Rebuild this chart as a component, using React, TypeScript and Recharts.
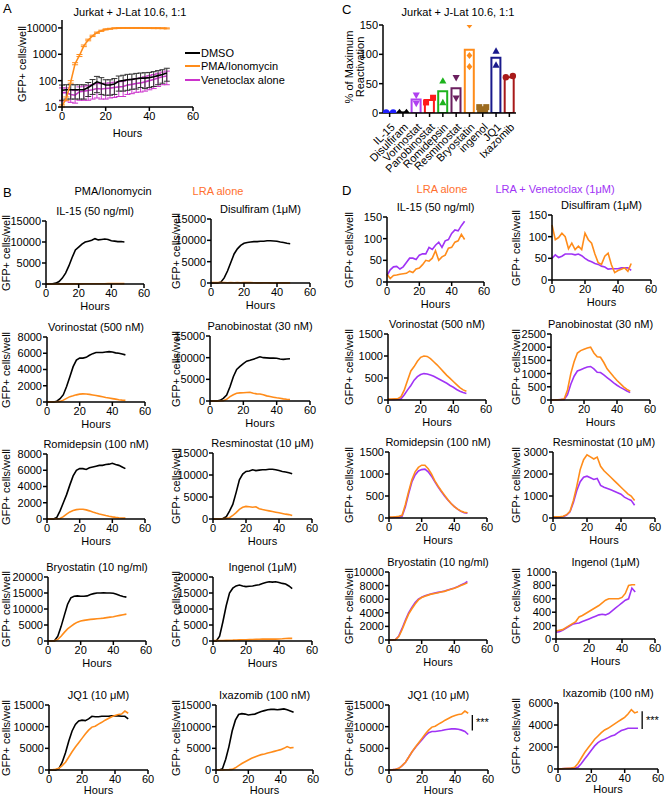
import React from 'react';
import {
  LineChart, Line, XAxis, YAxis, ErrorBar, ComposedChart, Bar, Cell, Scatter, ReferenceLine,
} from 'recharts';

const FONT = '"Liberation Sans", Arial, Helvetica, sans-serif';

// ---------------- DATA ----------------
const HOURS = [0, 2, 4, 6, 8, 10, 12, 14, 16, 18, 20, 22, 24, 26, 28, 30, 32, 34, 36, 38, 40, 42, 44, 46, 48];

// Panel A (log scale)
const A_DMSO = [43, 45, 45, 45, 45, 45, 55, 70, 90, 80, 68, 68, 75, 95, 100, 108, 112, 118, 125, 125, 130, 140, 155, 170, 195];
const A_DMSO_ERR = [25, 25, 25, 25, 25, 25, 30, 40, 55, 50, 40, 40, 45, 55, 60, 65, 65, 70, 70, 75, 75, 80, 85, 90, 100];
const A_PMA = [11, 21, 90, 440, 900, 2100, 3500, 5000, 6600, 7800, 8800, 9300, 9700, 9900, 10000, 10000, 10000, 10000, 10000, 9900, 9900, 9800, 9800, 9700, 9600];
const A_PMA_ERR = [1, 3, 10, 40, 80, 150, 250, 300, 350, 400, 400, 400, 400, 400, 400, 400, 400, 400, 400, 400, 400, 400, 400, 400, 400];
const A_VEN = [35, 35, 30, 28, 38, 40, 42, 45, 50, 48, 50, 52, 55, 58, 60, 68, 72, 78, 82, 90, 100, 110, 125, 140, 150];
const A_VEN_ERR = [18, 18, 15, 14, 20, 22, 24, 25, 28, 28, 30, 30, 32, 33, 35, 38, 40, 42, 45, 50, 55, 60, 65, 70, 80];
const A_LEGEND = ['DMSO', 'PMA/Ionomycin', 'Venetoclax alone'];

// Panel C
const C_CATS = ['IL-15', 'Disulfiram', 'Vorinostat', 'Panobinostat', 'Romidepsin', 'Resminostat', 'Bryostatin', 'ingenol', 'JQ1', 'Ixazomib'];
const C_MEAN = [1, 1, 23, 22, 37, 42, 108, 10, 94, 61];
const C_REP1 = [1, 1, 30, 18, 55, 60, 150, 10, 106, 61];
const C_REP2 = [1, 1, 16, 26, 18, 25, 98, 10, 82, 63];
const C_REP3: (number | null)[] = [null, null, null, null, null, null, 79, null, null, null];
const C_TICKS = [0, 50, 100, 150];

// Panels B / D (GFP+ cells/well over time)
const DRUGS = ['IL-15 (50 ng/ml)', 'Disulfiram (1\u03bcM)', 'Vorinostat (500 nM)', 'Panobinostat (30 nM)', 'Romidepsin (100 nM)', 'Resminostat (10 \u03bcM)', 'Bryostatin (10 ng/ml)', 'Ingenol (1\u03bcM)', 'JQ1 (10 \u03bcM)', 'Ixazomib (100 nM)'];

const PMA_IL15 = [0, 0, 50, 200, 600, 1400, 2600, 4300, 6300, 8100, 8800, 9500, 10000, 10200, 10400, 10800, 10500, 10600, 10700, 10600, 10300, 10200, 10100, 10100, 10000];
const PMA_DIS = [0, 0, 0, 200, 1200, 2800, 4800, 6800, 8000, 8800, 9300, 9500, 9600, 9700, 9700, 9800, 9800, 9900, 9900, 9850, 9800, 9600, 9500, 9300, 9200];
const PMA_VOR = [0, 0, 0, 100, 400, 900, 1900, 3100, 4350, 5150, 5400, 5400, 5500, 5750, 5950, 6100, 6100, 6100, 6150, 6200, 6150, 6050, 6000, 5900, 5800];
const PMA_PANO = [0, 0, 0, 150, 600, 1400, 3300, 5600, 7300, 8000, 8650, 9200, 9400, 9650, 9900, 10200, 10000, 9950, 9900, 9900, 9850, 9700, 9600, 9700, 9750];
const PMA_ROMI = [0, 0, 0, 200, 1000, 2000, 3000, 4200, 5300, 6000, 6200, 6200, 6100, 6300, 6400, 6500, 6600, 6600, 6700, 6750, 6850, 6700, 6600, 6400, 6200];
const PMA_RESMI = [0, 0, 0, 100, 500, 1800, 3300, 6000, 8900, 10200, 10800, 10900, 11200, 11000, 11100, 11200, 11200, 11300, 11300, 11200, 11000, 10800, 10700, 10500, 10300];
const PMA_BRYO = [0, 0, 100, 1500, 4500, 8000, 11500, 13500, 14000, 14100, 14000, 14000, 14100, 14500, 14800, 15000, 15000, 15100, 15000, 15000, 14900, 14600, 14200, 13900, 13700];
const PMA_ING = [0, 0, 1500, 6000, 11000, 15000, 16500, 17200, 17500, 17200, 17000, 17100, 17200, 17400, 17600, 18000, 18300, 18500, 18400, 18500, 18300, 18000, 17800, 17200, 16400];
const PMA_JQ1 = [0, 0, 0, 300, 1800, 4000, 6700, 9000, 10500, 11300, 11500, 11400, 11800, 12400, 12300, 12300, 12400, 12400, 12400, 12500, 12500, 12500, 12400, 12400, 11800];
const PMA_IXA = [0, 0, 300, 2500, 5400, 9000, 11500, 12800, 13000, 12900, 12700, 12800, 12900, 13200, 13500, 13700, 13900, 14000, 14000, 13900, 14000, 14100, 13900, 13600, 13300];

const LRA_IL15 = [18, 8, 15, 16, 18, 19, 20, 25, 22, 30, 32, 40, 50, 48, 55, 72, 50, 58, 62, 78, 80, 92, 95, 110, 98];
const LRA_DIS = [127, 93, 98, 108, 100, 72, 85, 70, 78, 70, 108, 93, 85, 60, 40, 36, 55, 62, 35, 17, 22, 25, 28, 20, 38];
const LRA_VOR = [20, 20, 25, 30, 75, 230, 450, 660, 760, 880, 970, 1000, 990, 940, 870, 800, 720, 640, 560, 490, 420, 350, 280, 230, 200];
const LRA_PANO = [0, 0, 10, 20, 40, 380, 1000, 1450, 1780, 1870, 1920, 1970, 2000, 1780, 1640, 1620, 1420, 1180, 1030, 880, 740, 620, 500, 400, 330];
const LRA_ROMI = [20, 20, 30, 40, 60, 300, 600, 870, 1050, 1150, 1200, 1200, 1120, 1000, 850, 730, 620, 520, 420, 330, 260, 200, 160, 130, 120];
const LRA_RESMI = [50, 50, 60, 80, 150, 300, 800, 1450, 2200, 2650, 2870, 2780, 2680, 2770, 2350, 2150, 2000, 1850, 1700, 1550, 1400, 1250, 1100, 1000, 800];
const LRA_BRYO = [0, 0, 50, 500, 1500, 2700, 3800, 4600, 5300, 5900, 6250, 6450, 6600, 6750, 6850, 6950, 7050, 7150, 7300, 7450, 7600, 7800, 8000, 8200, 8400];
const LRA_ING = [120, 130, 140, 170, 200, 230, 260, 330, 350, 380, 410, 440, 470, 500, 540, 580, 600, 600, 600, 600, 620, 680, 800, 810, 810];
const LRA_JQ1 = [0, 50, 150, 400, 1000, 1800, 3000, 4200, 5300, 6300, 7300, 8300, 9200, 9900, 10100, 10600, 11000, 11500, 11900, 12300, 12600, 12800, 12900, 13600, 13100];
const LRA_IXA = [0, 20, 40, 60, 80, 150, 500, 1000, 1500, 1900, 2300, 2700, 3000, 3300, 3550, 3700, 3900, 4100, 4300, 4500, 4700, 5000, 5400, 5100, 5200];

const VEN_IL15 = [15, 28, 35, 36, 30, 35, 45, 55, 55, 52, 62, 65, 65, 80, 75, 85, 92, 80, 95, 98, 112, 120, 118, 130, 140];
const VEN_DIS = [50, 58, 52, 55, 60, 60, 60, 58, 60, 56, 50, 45, 42, 38, 36, 32, 30, 25, 26, 26, 26, 28, 28, 28, 22];
const VEN_VOR = [10, 10, 15, 20, 30, 120, 230, 330, 450, 530, 580, 600, 590, 570, 540, 500, 460, 420, 380, 330, 290, 240, 200, 170, 150];
const VEN_PANO = [0, 0, 10, 20, 20, 200, 600, 900, 1100, 1150, 1200, 1250, 1270, 1180, 1050, 1040, 950, 850, 750, 650, 560, 480, 410, 340, 280];
const VEN_ROMI = [10, 10, 20, 20, 40, 250, 550, 820, 980, 1070, 1100, 1110, 1050, 950, 830, 710, 600, 500, 410, 330, 260, 200, 150, 120, 110];
const VEN_RESMI = [20, 20, 40, 60, 130, 280, 700, 1250, 1650, 1850, 1900, 1830, 1750, 1800, 1480, 1400, 1340, 1280, 1220, 1150, 1080, 950, 870, 800, 580];
const VEN_BRYO = [0, 0, 80, 600, 1700, 2900, 4000, 4800, 5500, 6000, 6300, 6500, 6650, 6800, 6900, 7000, 7100, 7200, 7350, 7500, 7650, 7850, 8100, 8300, 8600];
const VEN_ING = [100, 110, 130, 160, 190, 220, 230, 240, 260, 280, 300, 320, 340, 360, 370, 360, 380, 420, 460, 500, 540, 580, 600, 760, 700];
const VEN_JQ1 = [0, 50, 150, 400, 1000, 1800, 3000, 4200, 5200, 6100, 7000, 7900, 8600, 8900, 8900, 9000, 9100, 9300, 9400, 9500, 9500, 9400, 9200, 8900, 8200];
const VEN_IXA = [0, 20, 40, 50, 60, 70, 150, 500, 900, 1300, 1700, 2100, 2400, 2600, 2700, 2850, 3000, 3100, 3300, 3500, 3600, 3700, 3700, 3700, 3700];

const PMA_ALL = [PMA_IL15, PMA_DIS, PMA_VOR, PMA_PANO, PMA_ROMI, PMA_RESMI, PMA_BRYO, PMA_ING, PMA_JQ1, PMA_IXA];
const LRA_ALL = [LRA_IL15, LRA_DIS, LRA_VOR, LRA_PANO, LRA_ROMI, LRA_RESMI, LRA_BRYO, LRA_ING, LRA_JQ1, LRA_IXA];
const VEN_ALL = [VEN_IL15, VEN_DIS, VEN_VOR, VEN_PANO, VEN_ROMI, VEN_RESMI, VEN_BRYO, VEN_ING, VEN_JQ1, VEN_IXA];

const B_TICKS = [
  [0, 5000, 10000, 15000], [0, 5000, 10000, 15000], [0, 2000, 4000, 6000, 8000], [0, 5000, 10000, 15000], [0, 2000, 4000, 6000, 8000],
  [0, 5000, 10000, 15000], [0, 5000, 10000, 15000, 20000], [0, 5000, 10000, 15000, 20000], [0, 5000, 10000, 15000], [0, 5000, 10000, 15000],
];
const D_TICKS = [
  [0, 50, 100, 150], [0, 50, 100, 150], [0, 500, 1000, 1500], [0, 500, 1000, 1500, 2000, 2500], [0, 500, 1000, 1500],
  [0, 1000, 2000, 3000], [0, 2000, 4000, 6000, 8000, 10000], [0, 200, 400, 600, 800, 1000], [0, 5000, 10000, 15000], [0, 2000, 4000, 6000],
];
const X_TICKS = [0, 20, 40, 60];
// significance brackets in D (JQ1, Ixazomib): [hour, upper, lower]
const SIG_JQ1 = [50.5, 12700, 9100];
const SIG_IXA = [50.5, 5240, 3640];

// ---------------- STYLE / LAYOUT ----------------
const ORANGE = '#FF8C1A';
const ORANGE_TXT = '#FF6F2E';
const PURPLE = '#A033F5';
const MAGENTA = '#CC33CC';
const C_COLORS = ['#1F1FFF', '#000000', '#B040F0', '#FF1A1A', '#1DB31D', '#6B1F5F', '#FF8C1A', '#9C6B1F', '#1A1A8C', '#A81A1A'];
const C_SHAPES = ['circle', 'diamond', 'down', 'square', 'up', 'down', 'diamond', 'square', 'up', 'circle'];

// per panel: [x of 0 h, y of top tick, y of 0, width]
const B_LAYOUT = [
  [46, 221, 284, 98], [211, 219, 283, 99],
  [47, 337, 402, 98], [210, 336, 401, 100],
  [47, 454, 519, 98], [213, 453, 519, 99],
  [48, 577, 641, 98], [213, 577, 641, 99],
  [49, 705, 770, 99], [216, 705, 770, 97],
];
const D_LAYOUT = [
  [387, 217, 282, 97], [552, 215, 280, 99],
  [388, 334, 400, 98], [551, 334, 400, 99],
  [389, 452, 518, 98], [553, 452, 518, 102],
  [389, 572, 640, 98], [556, 572, 639, 99],
  [389, 705, 770, 99], [558, 703, 769, 100],
];
const YLABEL_X = [6, 176, 349, 516];

const axisLine = { stroke: '#000', strokeWidth: 1.5 };
const tickStyle = { fontSize: 11, fill: '#000', fontFamily: FONT };

function Txt({ x, y, children, size = 11, color = '#000', rotate = 0, anchor = 'middle' }: any) {
  const tx = anchor === 'middle' ? '-50%' : anchor === 'end' ? '-100%' : '0%';
  return (
    <div
      style={{
        position: 'absolute', left: x, top: y, whiteSpace: 'nowrap', lineHeight: 1,
        fontSize: size, color, fontFamily: FONT,
        transform: `translate(${tx}, -50%) rotate(${rotate}deg)`,
      }}
    >
      {children}
    </div>
  );
}

type Series = { key: string; color: string; values: number[] };

function SmallPanel({ layout, col, row, title, ticks, series, sig }: { layout: number[]; col: number; row: number; title: string; ticks: number[]; series: Series[]; sig?: number[] }) {
  const [x0, top, bottom, w] = layout;
  const h = bottom - top;
  const YW = 44;
  const MT = 8;
  const MR = 8;
  const XH = 20;
  const data = HOURS.map((hr, i) => {
    const o: any = { h: hr };
    series.forEach((s) => { o[s.key] = s.values[i]; });
    return o;
  });
  const yMax = ticks[ticks.length - 1];
  const hoursDy = row === 4 ? 20 : 22;
  return (
    <>
      <div style={{ position: 'absolute', left: x0 - YW, top: top - MT }}>
        <LineChart width={YW + w + MR} height={MT + h + XH} data={data} margin={{ top: MT, right: MR, left: 0, bottom: 0 }}>
          <XAxis dataKey="h" type="number" domain={[0, 60]} ticks={X_TICKS} height={XH} axisLine={axisLine}
            tickLine={axisLine} tickSize={4} tickMargin={1} tick={tickStyle} interval={0} />
          <YAxis type="number" domain={[0, yMax]} ticks={ticks} width={YW} axisLine={axisLine}
            tickLine={axisLine} tickSize={4} tickMargin={1} tick={tickStyle} interval={0} />
          {series.map((s) => (
            <Line key={s.key} dataKey={s.key} stroke={s.color} strokeWidth={1.6} dot={false} isAnimationActive={false} type="linear" />
          ))}
          {sig && (
            <ReferenceLine segment={[{ x: sig[0], y: sig[1] }, { x: sig[0], y: sig[2] }]} stroke="#000" strokeWidth={1.3} ifOverflow="visible" />
          )}
        </LineChart>
      </div>
      <Txt x={x0 + w / 2} y={top - 10}>{title}</Txt>
      <Txt x={YLABEL_X[col]} y={(top + bottom) / 2} rotate={-90}>GFP+ cells/well</Txt>
      <Txt x={x0 + w / 2} y={bottom + hoursDy}>Hours</Txt>
    </>
  );
}

function PanelA() {
  const data = HOURS.map((hr, i) => ({
    h: hr, dmso: A_DMSO[i], dmsoErr: A_DMSO_ERR[i], pma: A_PMA[i], pmaErr: A_PMA_ERR[i], ven: A_VEN[i], venErr: A_VEN_ERR[i],
  }));
  const left = 62, top = 20, bottom = 107, w = 131;
  const YW = 46, MT = 6, MR = 8, XH = 20;
  const legendColors = ['#000', ORANGE, MAGENTA];
  return (
    <>
      <div style={{ position: 'absolute', left: left - YW, top: top - MT }}>
        <LineChart width={YW + w + MR} height={MT + (bottom - top) + XH} data={data} margin={{ top: MT, right: MR, left: 0, bottom: 0 }}>
          <XAxis dataKey="h" type="number" domain={[0, 60]} ticks={X_TICKS} height={XH} axisLine={axisLine}
            tickLine={axisLine} tickSize={4} tickMargin={1} tick={tickStyle} interval={0} />
          <YAxis type="number" scale="log" domain={[10, 20000]} ticks={[10, 100, 1000, 10000]} width={YW} axisLine={axisLine}
            tickLine={axisLine} tickSize={4} tickMargin={1} tick={tickStyle} interval={0} allowDataOverflow />
          <Line dataKey="ven" stroke={MAGENTA} strokeWidth={1.6} dot={false} isAnimationActive={false}>
            <ErrorBar dataKey="venErr" width={3} stroke={MAGENTA} strokeWidth={1} direction="y" />
          </Line>
          <Line dataKey="dmso" stroke="#000" strokeWidth={1.6} dot={false} isAnimationActive={false}>
            <ErrorBar dataKey="dmsoErr" width={3} stroke="#333" strokeWidth={1} direction="y" />
          </Line>
          <Line dataKey="pma" stroke={ORANGE} strokeWidth={1.6} dot={false} isAnimationActive={false}>
            <ErrorBar dataKey="pmaErr" width={3} stroke={ORANGE} strokeWidth={1} direction="y" />
          </Line>
        </LineChart>
      </div>
      <Txt x={130} y={12}>Jurkat + J-Lat 10.6, 1:1</Txt>
      <Txt x={22} y={(top + bottom) / 2} rotate={-90}>GFP+ cells/well</Txt>
      <Txt x={left + w / 2} y={bottom + 26}>Hours</Txt>
      {A_LEGEND.map((name, i) => (
        <React.Fragment key={name}>
          <div style={{ position: 'absolute', left: 185, top: 53 + i * 13.3 - 1, width: 15, height: 2, background: legendColors[i] }} />
          <Txt x={201} y={53 + i * 13.3} anchor="start">{name}</Txt>
        </React.Fragment>
      ))}
    </>
  );
}

function Marker({ cx, cy, color, shape }: any) {
  const s = 3.6;
  if (shape === 'circle') return <circle cx={cx} cy={cy} r={3.2} fill={color} />;
  if (shape === 'square') return <rect x={cx - 3} y={cy - 3} width={6} height={6} fill={color} />;
  if (shape === 'up') return <polygon points={`${cx},${cy - s} ${cx + s},${cy + s * 0.8} ${cx - s},${cy + s * 0.8}`} fill={color} />;
  if (shape === 'down') return <polygon points={`${cx},${cy + s} ${cx + s},${cy - s * 0.8} ${cx - s},${cy - s * 0.8}`} fill={color} />;
  return <polygon points={`${cx},${cy - s} ${cx + s * 0.8},${cy} ${cx},${cy + s} ${cx - s * 0.8},${cy}`} fill={color} />;
}

function PanelC() {
  const data = C_CATS.map((name, i) => ({ name, mean: C_MEAN[i], r1: C_REP1[i], r2: C_REP2[i], r3: C_REP3[i], idx: i }));
  const left = 383, top = 25, bottom = 113, w = 133;
  const YW = 30, MT = 10, MR = 10, XH = 70;
  const makeShape = (rep: number) => (props: any) => {
    const { cx, cy, payload } = props;
    if (cx == null || cy == null || isNaN(cx) || isNaN(cy)) return <g />;
    const i = payload.idx;
    const a = C_REP1[i], b = C_REP2[i];
    let dx = 0;
    if (C_REP3[i] == null && Math.abs(a - b) < 9) dx = rep === 1 ? -3.5 : rep === 2 ? 3.5 : 0;
    return <Marker cx={cx + dx} cy={cy} color={C_COLORS[i]} shape={C_SHAPES[i]} />;
  };
  const CatTick = (props: any) => {
    const { x, y, payload } = props;
    return (
      <g transform={`translate(${x + 3},${y + 6}) rotate(-45)`}>
        <text x={0} y={0} dy={4} textAnchor="end" fontSize={11} fill="#000" fontFamily={FONT}>{payload.value}</text>
      </g>
    );
  };
  return (
    <>
      <div style={{ position: 'absolute', left: left - YW, top: top - MT }}>
        <ComposedChart width={YW + w + MR} height={MT + (bottom - top) + XH} data={data} margin={{ top: MT, right: MR, left: 0, bottom: 0 }}>
          <XAxis dataKey="name" type="category" height={XH} axisLine={axisLine} tickLine={axisLine} tickSize={4}
            tick={<CatTick />} interval={0} />
          <YAxis type="number" domain={[0, 150]} ticks={C_TICKS} width={YW} axisLine={axisLine}
            tickLine={axisLine} tickSize={4} tickMargin={1} tick={tickStyle} interval={0} allowDataOverflow />
          <Bar dataKey="mean" barSize={9} isAnimationActive={false}>
            {data.map((d, i) => (
              <Cell key={d.name} fill={i === 7 ? C_COLORS[i] : '#fff'} stroke={C_COLORS[i]} strokeWidth={2} />
            ))}
          </Bar>
          <Scatter dataKey="r1" isAnimationActive={false} shape={makeShape(1)} />
          <Scatter dataKey="r2" isAnimationActive={false} shape={makeShape(2)} />
          <Scatter dataKey="r3" isAnimationActive={false} shape={makeShape(3)} />
        </ComposedChart>
      </div>
      <Txt x={458} y={12}>Jurkat + J-Lat 10.6, 1:1</Txt>
      <Txt x={348.5} y={67} rotate={-90}>% of Maximum</Txt>
      <Txt x={360} y={67} rotate={-90}>Reactivation</Txt>
    </>
  );
}

export default function App() {
  return (
    <div style={{ position: 'absolute', left: 0, top: 0, width: 668, height: 796, overflow: 'hidden', fontFamily: FONT, background: '#fff' }}>
      <Txt x={3} y={8} size={13} anchor="start">A</Txt>
      <Txt x={342} y={9} size={13} anchor="start">C</Txt>
      <Txt x={3} y={192} size={13} anchor="start">B</Txt>
      <Txt x={342} y={190} size={13} anchor="start">D</Txt>
      <Txt x={113} y={191}>PMA/Ionomycin</Txt>
      <Txt x={218} y={191} color={ORANGE_TXT}>LRA alone</Txt>
      <Txt x={442} y={189} color={ORANGE_TXT}>LRA alone</Txt>
      <Txt x={555} y={189} color={PURPLE}>LRA + Venetoclax (1{'\u03bc'}M)</Txt>
      <PanelA />
      <PanelC />
      {DRUGS.map((title, i) => (
        <SmallPanel
          key={'B' + i}
          layout={B_LAYOUT[i]}
          col={i % 2}
          row={Math.floor(i / 2)}
          title={title}
          ticks={B_TICKS[i]}
          series={[
            { key: 'pma', color: '#000', values: PMA_ALL[i] },
            { key: 'lra', color: ORANGE, values: LRA_ALL[i] },
          ]}
        />
      ))}
      {DRUGS.map((title, i) => (
        <SmallPanel
          key={'D' + i}
          layout={D_LAYOUT[i]}
          col={2 + (i % 2)}
          row={Math.floor(i / 2)}
          title={title}
          ticks={D_TICKS[i]}
          series={[
            { key: 'ven', color: PURPLE, values: VEN_ALL[i] },
            { key: 'lra', color: ORANGE, values: LRA_ALL[i] },
          ]}
          sig={i === 8 ? SIG_JQ1 : i === 9 ? SIG_IXA : undefined}
        />
      ))}
      <Txt x={476} y={722} anchor="start">***</Txt>
      <Txt x={646} y={720} anchor="start">***</Txt>
    </div>
  );
}
